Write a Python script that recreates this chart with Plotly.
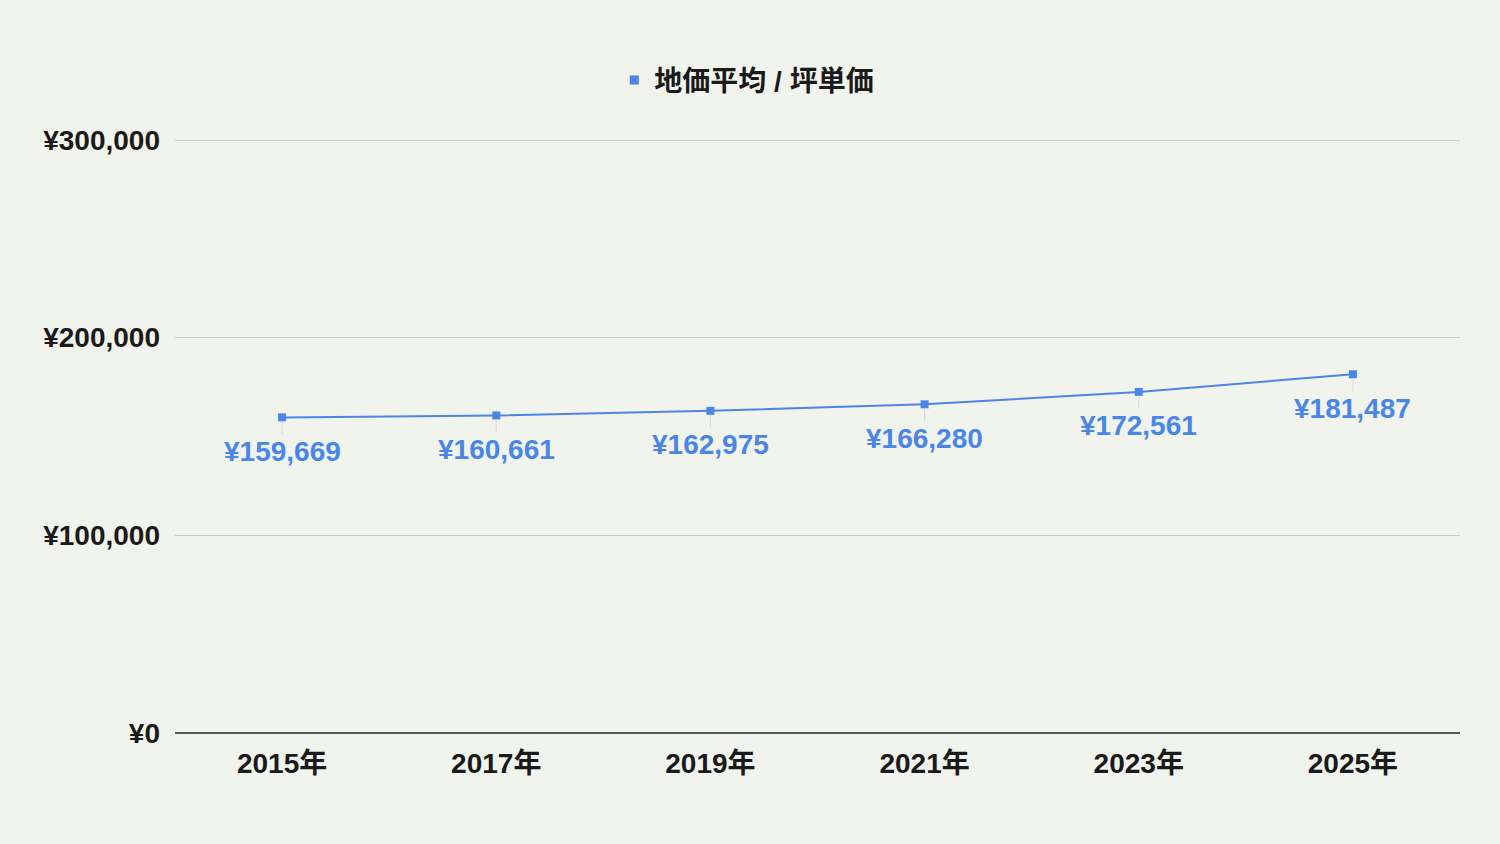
import plotly.graph_objects as go

years = ['2015年', '2017年', '2019年', '2021年', '2023年', '2025年']
prices = [159669, 160661, 162975, 166280, 172561, 181487]
series_name = '地価平均 / 坪単価'
y_ticks = [0, 100000, 200000, 300000]
y_ticklabels = ['¥0', '¥100,000', '¥200,000', '¥300,000']

blue = '#4a86e8'
font_family = 'Liberation Sans, Arial, Noto Sans CJK JP, sans-serif'

fig = go.Figure()
fig.add_trace(go.Scatter(
    x=years, y=prices, name=series_name,
    mode='lines+markers',
    line=dict(color=blue, width=2),
    marker=dict(symbol='square', size=8, color=blue),
    showlegend=False,
))
# legend entry: only the square marker, as in the original
fig.add_trace(go.Scatter(
    x=[None], y=[None], name='<b>' + series_name + '</b>',
    mode='markers', marker=dict(symbol='square', size=9, color=blue),
))

# data labels under each point, with a faint leader line
for yr, p in zip(years, prices):
    fig.add_annotation(
        x=yr, y=p, text='<b>¥{:,}</b>'.format(p),
        showarrow=True, ax=0, ay=34, arrowhead=0,
        arrowcolor='#d9d9d9', arrowwidth=1, standoff=4,
        font=dict(size=28, color=blue, family=font_family),
    )

fig.update_layout(
    width=1500, height=844,
    paper_bgcolor='#f1f3ed', plot_bgcolor='#f1f3ed',
    margin=dict(l=175, r=40, t=137, b=111),
    font=dict(family=font_family, color='#1a1a1a'),
    showlegend=True,
    legend=dict(orientation='h', x=0.445, xanchor='center', y=1.095, yanchor='middle',
                font=dict(size=28, color='#1a1a1a'), itemwidth=30,
                bgcolor='rgba(0,0,0,0)'),
    xaxis=dict(
        type='category', range=[-0.5, 5.5],
        showgrid=False, showline=False, ticks='',
        tickfont=dict(size=28, color='#1a1a1a'),
        tickprefix='<b>', ticksuffix='</b>', ticklabelstandoff=11,
    ),
    yaxis=dict(
        range=[0, 301518],
        tickvals=y_ticks, ticktext=['<b>' + t + '</b>' for t in y_ticklabels],
        tickfont=dict(size=28, color='#1a1a1a'),
        gridcolor='#cccccc', gridwidth=1,
        zeroline=True, zerolinecolor='#555555', zerolinewidth=1.5,
        ticks='', ticklen=0, ticklabelstandoff=14,
    ),
)

fig.write_html('out.html', config={'displayModeBar': False},
               post_script="document.body.style.margin='0';document.body.style.overflow='hidden';")
